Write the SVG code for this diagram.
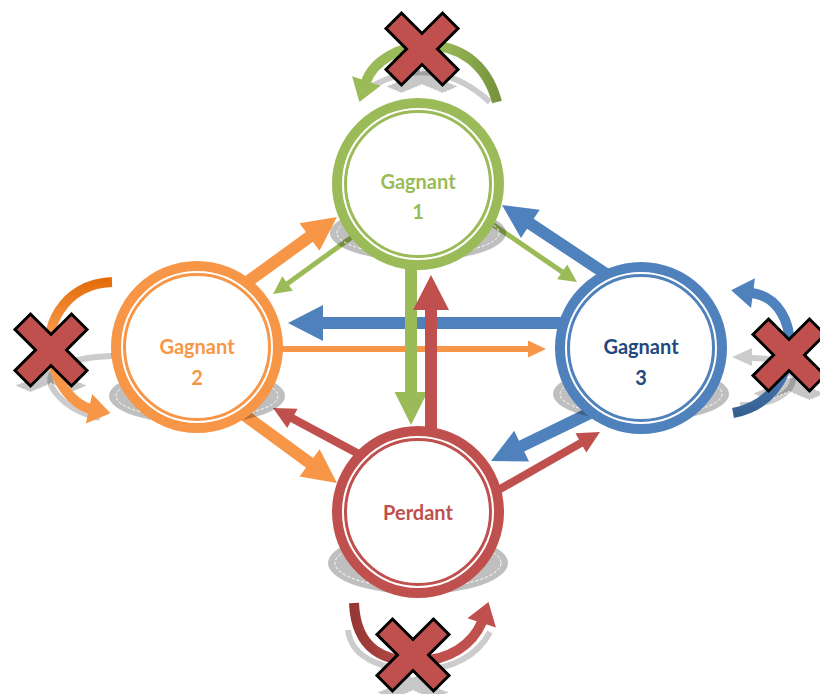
<svg xmlns="http://www.w3.org/2000/svg" width="820" height="694" viewBox="0 0 820 694">
<defs>
<style>
.g{fill:#9BBB59}.o{fill:#F79646}.b{fill:#4F81BD}.r{fill:#C0504D}
.ring{fill:#fff;stroke-width:10}
.inner{fill:none;stroke-width:3}
.sh{fill:#000;fill-opacity:.25}
.shd{fill:none;stroke:#fff;stroke-width:1;stroke-dasharray:3 2}
.lbl{font-family:Lato,"Open Sans","Liberation Sans",sans-serif;font-weight:bold;font-size:20px;text-anchor:middle}
.xm{fill:#C0504D;stroke:#000;stroke-width:3;stroke-linejoin:miter}
.xs{fill:#000;fill-opacity:.22;stroke:#fff;stroke-width:1;stroke-dasharray:2 2}
.ls{fill:none;stroke:#000;stroke-opacity:.2;stroke-width:6}
.lh{fill:#000;fill-opacity:.2}
.loop{fill:none;stroke-width:10}
</style>
<polygon id="xshape" vector-effect="non-scaling-stroke" points="-20.5,-36 0,-15.5 20.5,-36 36,-20.5 15.5,0 36,20.5 20.5,36 0,15.5 -20.5,36 -36,20.5 -15.5,0 -36,-20.5"/>
<linearGradient id="gl1" gradientUnits="userSpaceOnUse" x1="366" y1="0" x2="500" y2="0"><stop offset=".55" stop-color="#9BBB59"/><stop offset="1" stop-color="#76923C"/></linearGradient>
<linearGradient id="gl2" gradientUnits="userSpaceOnUse" x1="0" y1="280" x2="0" y2="330"><stop offset="0" stop-color="#E36C09"/><stop offset="1" stop-color="#F79646"/></linearGradient>
<linearGradient id="gl3" gradientUnits="userSpaceOnUse" x1="0" y1="300" x2="0" y2="415"><stop offset=".5" stop-color="#4F81BD"/><stop offset="1" stop-color="#365F91"/></linearGradient>
<linearGradient id="gl4" gradientUnits="userSpaceOnUse" x1="350" y1="0" x2="420" y2="0"><stop offset="0" stop-color="#943634"/><stop offset="1" stop-color="#C0504D"/></linearGradient>
</defs>

<g id="connectors">
  <g class="b" transform="translate(288,323) rotate(180)"><polygon points="0,0 -35,-18 -35,-6 -275,-6 -275,6 -35,6 -35,18"/></g>
  <g class="o" transform="translate(546,349)"><polygon points="0,0 -18,-8.5 -18,-3 -270,-3 -270,3 -18,3 -18,8.5"/></g>
  <g class="g" transform="translate(273,294) rotate(144.16)"><polygon points="0,0 -18,-9 -18,-2.5 -100,-2.5 -100,2.5 -18,2.5 -18,9"/></g>
  <g class="g" transform="translate(577,282) rotate(34.36)"><polygon points="0,0 -18,-9 -18,-2.5 -106,-2.5 -106,2.5 -18,2.5 -18,9"/></g>
  <g class="o" transform="translate(337,217) rotate(-35.9)"><polygon points="0,0 -34,-17 -34,-6 -120,-6 -120,6 -34,6 -34,17"/></g>
  <g class="o" transform="translate(337,483) rotate(36.25)"><polygon points="0,0 -34,-17 -34,-6 -122,-6 -122,6 -34,6 -34,17"/></g>
  <g class="r" transform="translate(273,408) rotate(-151.8)"><polygon points="0,0 -22,-11 -22,-4 -105,-4 -105,4 -22,4 -22,11"/></g>
  <g class="b" transform="translate(502,205) rotate(-146.44)"><polygon points="0,0 -34,-17 -34,-6 -127,-6 -127,6 -34,6 -34,17"/></g>
  <g class="b" transform="translate(491,461) rotate(154.13)"><polygon points="0,0 -34,-17 -34,-6 -122,-6 -122,6 -34,6 -34,17"/></g>
  <g class="r" transform="translate(600,432) rotate(-29.74)"><polygon points="0,0 -22,-11 -22,-4 -125,-4 -125,4 -22,4 -22,11"/></g>
  <g class="g" transform="translate(411,425) rotate(90)"><polygon points="0,0 -33,-16.5 -33,-6 -172,-6 -172,6 -33,6 -33,16.5"/></g>
  <g class="r" transform="translate(431,275) rotate(-90)"><polygon points="0,0 -35,-18 -35,-6 -165,-6 -165,6 -35,6 -35,18"/></g>
</g>

<g id="gagnant1">
  <ellipse class="sh" cx="418" cy="233" rx="88" ry="28"/>
  <ellipse class="shd" cx="418" cy="233" rx="81" ry="22"/>
  <circle class="ring" cx="418" cy="184" r="81" stroke="#9BBB59"/>
  <circle class="inner" cx="418" cy="184" r="72.5" stroke="#9BBB59"/>
  <text class="lbl" x="418" y="189" fill="#9BBB59">Gagnant</text>
  <text class="lbl" x="418" y="219" fill="#9BBB59">1</text>
</g>
<g id="gagnant2">
  <ellipse class="sh" cx="197" cy="396" rx="88" ry="28"/>
  <ellipse class="shd" cx="197" cy="396" rx="81" ry="22"/>
  <circle class="ring" cx="197" cy="347" r="81" stroke="#F79646"/>
  <circle class="inner" cx="197" cy="347" r="72.5" stroke="#F79646"/>
  <text class="lbl" x="197" y="354" fill="#F79646">Gagnant</text>
  <text class="lbl" x="197" y="385" fill="#F79646">2</text>
</g>
<g id="gagnant3">
  <ellipse class="sh" cx="641" cy="394" rx="88" ry="28"/>
  <ellipse class="shd" cx="641" cy="394" rx="81" ry="22"/>
  <circle class="ring" cx="641" cy="348" r="81" stroke="#4F81BD"/>
  <circle class="inner" cx="641" cy="348" r="72.5" stroke="#4F81BD"/>
  <text class="lbl" x="641" y="354" fill="#1F497D">Gagnant</text>
  <text class="lbl" x="641" y="385" fill="#1F497D">3</text>
</g>
<g id="perdant">
  <ellipse class="sh" cx="418" cy="563" rx="90" ry="31"/>
  <ellipse class="shd" cx="418" cy="563" rx="83" ry="25"/>
  <circle class="ring" cx="418" cy="512" r="81" stroke="#C0504D"/>
  <circle class="inner" cx="418" cy="512" r="72.5" stroke="#C0504D"/>
  <text class="lbl" x="418" y="520" fill="#C0504D">Perdant</text>
</g>

<g id="self-loops">
  <path class="ls" d="M372,86 Q435,52 490,102"/>
  <use href="#xshape" class="xs" transform="translate(422,78) scale(1,0.42)"/>
  <path class="loop" stroke="url(#gl1)" d="M366,82 C380,40 475,20 497,102"/>
  <polygon class="g" transform="translate(366,82) rotate(108.4)" points="21,0 -1,-15 -1,15"/>
  <use href="#xshape" class="xm" transform="translate(422,49)"/>

  <path class="ls" d="M112,356 C60,358 40,372 55,392 C65,405 80,414 100,418"/>
  <use href="#xshape" class="xs" transform="translate(51,377) scale(1,0.42)"/>
  <path class="loop" stroke="url(#gl2)" d="M112,282 C62,284 42,330 52,360 C58,385 72,403 90,409"/>
  <polygon class="o" transform="translate(90,409) rotate(12)" points="21,0 -1,-15 -1,15"/>
  <use href="#xshape" class="xm" transform="translate(51,350)"/>

  <path class="ls" d="M752,358 C790,358 803,378 785,393 C775,402 760,405 740,405"/>
  <polygon class="lh" transform="translate(752,357) rotate(180)" points="20,0 0,-9 0,9"/>
  <use href="#xshape" class="xs" transform="translate(789,385) scale(1,0.42)"/>
  <path class="loop" stroke="url(#gl3)" d="M752,293 C805,300 805,400 733,413"/>
  <polygon class="b" transform="translate(752,293) rotate(187.5)" points="21,0 -1,-15 -1,15"/>
  <use href="#xshape" class="xm" transform="translate(789,355)"/>

  <path class="ls" d="M348,630 C352,662 390,670 418,670 C452,670 478,655 490,632"/>
  <use href="#xshape" class="xs" transform="translate(413,684) scale(1,0.42)"/>
  <path class="loop" stroke="url(#gl4)" d="M354,603 C356,650 385,662 418,661 C450,660 472,645 482,622"/>
  <polygon class="r" transform="translate(482,622) rotate(-72)" points="21,0 -1,-15 -1,15"/>
  <use href="#xshape" class="xm" transform="translate(413,655)"/>
</g>
</svg>
